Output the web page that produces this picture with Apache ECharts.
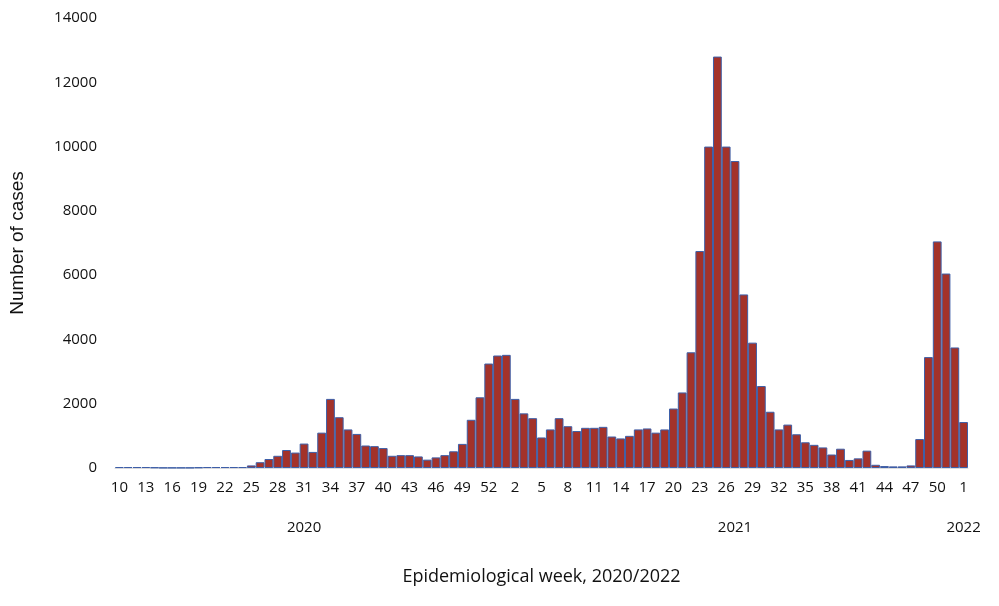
<!DOCTYPE html>
<html><head><meta charset="utf-8">
<script src="https://cdn.jsdelivr.net/npm/echarts@6/dist/echarts.min.js"></script>
<style>html,body{margin:0;background:#fff}#c{width:999px;height:606px}</style>
</head><body><div id="c"></div>
<script>
const weeks2020 = [10,11,12,13,14,15,16,17,18,19,20,21,22,23,24,25,26,27,28,29,30,31,32,33,34,35,36,37,38,39,40,41,42,43,44,45,46,47,48,49,50,51,52,53];
const cases2020 = [30,30,30,30,20,10,10,10,10,20,30,30,30,30,30,80,180,280,380,560,480,760,500,1100,2150,1580,1200,1060,700,680,620,380,400,400,360,260,330,400,520,750,1500,2200,3250,3500];
const cases2021 = [3520,2150,1700,1550,950,1200,1550,1300,1150,1250,1250,1280,980,920,1000,1200,1230,1100,1200,1850,2350,3600,6750,10000,12800,10000,9550,5400,3900,2550,1750,1200,1350,1050,800,720,640,420,600,250,300,540,100,60,50,50,80,900,3450,7050,6050,3750];
const weeks2021 = cases2021.map((_, i) => i + 1);
const weeks2022 = [1];
const cases2022 = [1430];
const categories = [...weeks2020, ...weeks2021, ...weeks2022].map(String);
const values = [...cases2020, ...cases2021, ...cases2022];
const yearLabels = {21: '2020', 70: '2021', 96: '2022'};

const font = 'Open Sans';
const chart = echarts.init(document.getElementById('c'));
chart.setOption({
  animation: false,
  grid: {left: 113, right: 31, top: 18, bottom: 138},
  xAxis: [{
    type: 'category', data: categories,
    axisLine: {lineStyle: {color: '#ddd'}}, axisTick: {show: false},
    axisLabel: {interval: 2, color: '#111', fontSize: 15, fontFamily: font, margin: 12}
  }, {
    type: 'category', data: categories, position: 'bottom', offset: 44,
    axisLine: {show: false}, axisTick: {show: false},
    axisLabel: {interval: (i) => i in yearLabels, formatter: (v, i) => yearLabels[i] || '',
      color: '#111', fontSize: 15, fontFamily: font},
    name: 'Epidemiological week, 2020/2022', nameLocation: 'middle', nameGap: 56,
    nameTextStyle: {fontSize: 18, color: '#111', fontFamily: font}
  }],
  yAxis: {
    type: 'value', min: 0, max: 14000, interval: 2000,
    splitLine: {show: false}, axisLine: {show: false}, axisTick: {show: false},
    axisLabel: {color: '#111', fontSize: 15, fontFamily: font, margin: 18, formatter: (v) => String(v)},
    name: 'Number of cases', nameLocation: 'middle', nameGap: 88,
    nameTextStyle: {fontSize: 19, color: '#111', fontFamily: 'Liberation Sans'}
  },
  series: [{
    type: 'bar', data: values, barCategoryGap: '0%',
    itemStyle: {color: '#a3322a', borderColor: '#3d5fa8', borderWidth: 1}
  }]
});
</script></body></html>
